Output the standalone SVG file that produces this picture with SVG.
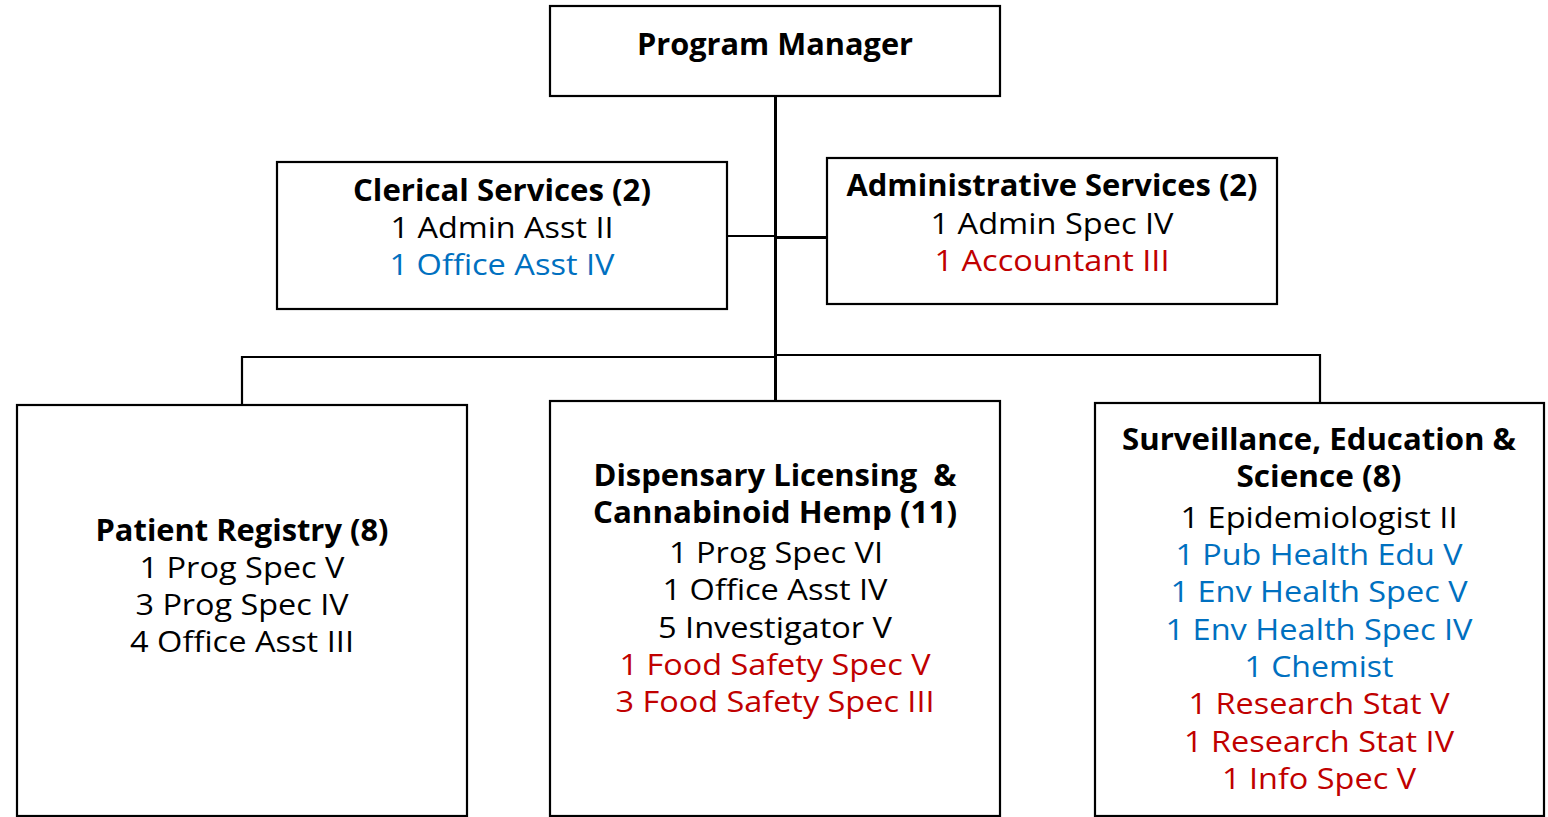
<svg xmlns="http://www.w3.org/2000/svg" width="1548" height="817" viewBox="0 0 1548 817">
<style>
.box{fill:#fff;stroke:#000;stroke-width:2.2}
.ln{fill:none;stroke:#000;stroke-width:2.2}
text{font-family:"Open Sans","Noto Sans","Liberation Sans",sans-serif;font-size:30px;text-anchor:middle}
.b{font-weight:bold}
.k{fill:#000}
.bl{fill:#0070C0}
.rd{fill:#C00000}
</style>
<rect width="1548" height="817" fill="#fff"/>
<g id="connectors">
<line class="ln" x1="775.5" y1="96" x2="775.5" y2="402" style="stroke-width:3"/>
<line class="ln" x1="727" y1="236" x2="775" y2="236"/>
<line class="ln" x1="775" y1="237.5" x2="828" y2="237.5" style="stroke-width:3"/>
<polyline class="ln" points="242,404 242,357 775,357"/>
<polyline class="ln" points="775,355 1320,355 1320,403"/>
</g>
<g id="program-manager">
<rect class="box" x="550" y="6" width="450" height="90"/>
<text class="b" x="775" y="55" textLength="276" lengthAdjust="spacingAndGlyphs">Program Manager</text>
</g>
<g id="clerical-services">
<rect class="box" x="277" y="162" width="450" height="147"/>
<text class="b" x="502" y="201" textLength="298" lengthAdjust="spacingAndGlyphs">Clerical Services (2)</text>
<text class="k" x="502" y="238" textLength="223" lengthAdjust="spacingAndGlyphs">1 Admin Asst II</text>
<text class="bl" x="502" y="275" textLength="225" lengthAdjust="spacingAndGlyphs">1 Office Asst IV</text>
</g>
<g id="administrative-services">
<rect class="box" x="827" y="158" width="450" height="146"/>
<text class="b" x="1052" y="196" textLength="411" lengthAdjust="spacingAndGlyphs">Administrative Services (2)</text>
<text class="k" x="1052" y="234" textLength="243" lengthAdjust="spacingAndGlyphs">1 Admin Spec IV</text>
<text class="rd" x="1052" y="271" textLength="235" lengthAdjust="spacingAndGlyphs">1 Accountant III</text>
</g>
<g id="patient-registry">
<rect class="box" x="17" y="405" width="450" height="411"/>
<text class="b" x="242" y="541" textLength="293" lengthAdjust="spacingAndGlyphs">Patient Registry (8)</text>
<text class="k" x="242" y="578" textLength="205" lengthAdjust="spacingAndGlyphs">1 Prog Spec V</text>
<text class="k" x="242" y="615" textLength="213" lengthAdjust="spacingAndGlyphs">3 Prog Spec IV</text>
<text class="k" x="242" y="652" textLength="224" lengthAdjust="spacingAndGlyphs">4 Office Asst III</text>
</g>
<g id="dispensary-licensing">
<rect class="box" x="550" y="401" width="450" height="415"/>
<text class="b" x="775" y="486" textLength="363" lengthAdjust="spacingAndGlyphs" xml:space="preserve">Dispensary Licensing  &amp;</text>
<text class="b" x="775" y="523" textLength="364" lengthAdjust="spacingAndGlyphs">Cannabinoid Hemp (11)</text>
<text class="k" x="776" y="563" textLength="214" lengthAdjust="spacingAndGlyphs">1 Prog Spec VI</text>
<text class="k" x="775" y="600" textLength="225" lengthAdjust="spacingAndGlyphs">1 Office Asst IV</text>
<text class="k" x="775" y="638" textLength="234" lengthAdjust="spacingAndGlyphs">5 Investigator V</text>
<text class="rd" x="775" y="675" textLength="311" lengthAdjust="spacingAndGlyphs">1 Food Safety Spec V</text>
<text class="rd" x="775" y="712" textLength="319" lengthAdjust="spacingAndGlyphs">3 Food Safety Spec III</text>
</g>
<g id="surveillance-education-science">
<rect class="box" x="1095" y="403" width="449" height="413"/>
<text class="b" x="1319" y="450" textLength="394" lengthAdjust="spacingAndGlyphs">Surveillance, Education &amp;</text>
<text class="b" x="1319" y="487" textLength="165" lengthAdjust="spacingAndGlyphs">Science (8)</text>
<text class="k" x="1319" y="528" textLength="277" lengthAdjust="spacingAndGlyphs">1 Epidemiologist II</text>
<text class="bl" x="1319" y="565" textLength="287" lengthAdjust="spacingAndGlyphs">1 Pub Health Edu V</text>
<text class="bl" x="1319" y="602" textLength="297" lengthAdjust="spacingAndGlyphs">1 Env Health Spec V</text>
<text class="bl" x="1319" y="640" textLength="307" lengthAdjust="spacingAndGlyphs">1 Env Health Spec IV</text>
<text class="bl" x="1319" y="677" textLength="149" lengthAdjust="spacingAndGlyphs">1 Chemist</text>
<text class="rd" x="1319" y="714" textLength="261" lengthAdjust="spacingAndGlyphs">1 Research Stat V</text>
<text class="rd" x="1319" y="752" textLength="270" lengthAdjust="spacingAndGlyphs">1 Research Stat IV</text>
<text class="rd" x="1319" y="789" textLength="194" lengthAdjust="spacingAndGlyphs">1 Info Spec V</text>
</g>
</svg>
